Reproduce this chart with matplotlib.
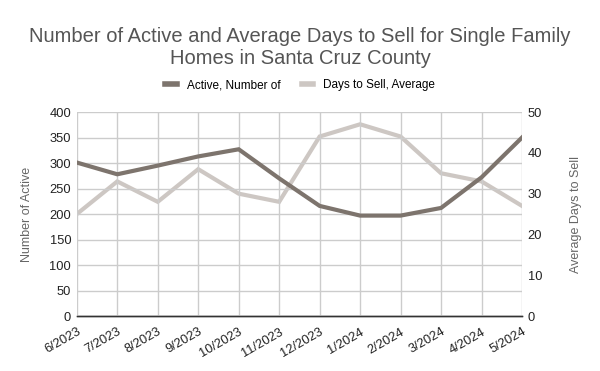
import matplotlib
matplotlib.use("Agg")
import matplotlib.pyplot as plt
from matplotlib.lines import Line2D

months = ["6/2023", "7/2023", "8/2023", "9/2023", "10/2023", "11/2023", "12/2023",
          "1/2024", "2/2024", "3/2024", "4/2024", "5/2024"]
active = [301, 278, 295, 313, 327, 270, 216, 197, 197, 212, 272, 350]
days = [25, 33, 28, 36, 30, 28, 44, 47, 44, 35, 33, 27]
left_ticks = [0, 50, 100, 150, 200, 250, 300, 350, 400]
right_ticks = [0, 10, 20, 30, 40, 50]

plt.rcParams['font.family'] = ['Liberation Sans', 'DejaVu Sans']

c_active = "#7d746d"
c_days = "#cdc7c3"

fig = plt.figure(figsize=(6, 3.71), dpi=100)
ax = fig.add_axes([0.128, 0.148, 0.742, 0.550])
ax2 = ax.twinx()

x = list(range(len(months)))
ax.plot(x, active, color=c_active, lw=3, solid_joinstyle='miter', zorder=3)
ax2.plot(x, days, color=c_days, lw=3, solid_joinstyle='miter', zorder=2)
ax.set_zorder(ax2.get_zorder() + 1)
ax.patch.set_visible(False)

ax.set_xlim(0, len(months) - 1)
ax.set_ylim(0, 400)
ax2.set_ylim(0, 50)
ax.set_yticks(left_ticks)
ax2.set_yticks(right_ticks)
ax.set_xticks(x)
ax.set_xticklabels(months, rotation=30, ha='right', rotation_mode='anchor', fontsize=9.3, color='#222222')
ax.tick_params(axis='x', length=0, pad=7)
ax.tick_params(axis='y', length=0, labelsize=9.3, labelcolor='#222222', pad=4)
ax2.tick_params(axis='y', length=0, labelsize=9.3, labelcolor='#222222', pad=4)

ax.grid(True, color='#cccccc', lw=1)
ax.set_axisbelow(True)
for a in (ax, ax2):
    for s in ('top', 'left', 'right'):
        a.spines[s].set_visible(False)
    a.spines['bottom'].set_color('#333333')
    a.spines['bottom'].set_linewidth(1)

ax.set_ylabel("Number of Active", fontsize=9, color='#666666', labelpad=12)
ax2.set_ylabel("Average Days to Sell", fontsize=9, color='#666666', labelpad=20)

fig.text(0.5, 0.871, "Number of Active and Average Days to Sell for Single Family\nHomes in Santa Cruz County",
         ha='center', va='center', fontsize=14.5, color='#555555', linespacing=1.2)

handles = [Line2D([], [], color=c_active, lw=4), Line2D([], [], color=c_days, lw=4)]
fig.legend(handles, ["Active, Number of", "Days to Sell, Average"], loc='center',
           bbox_to_anchor=(0.5, 0.77), ncol=2, frameon=False, fontsize=8.5,
           handlelength=1.0, columnspacing=1.8, handletextpad=0.8)

fig.savefig("out.png", dpi=100)
